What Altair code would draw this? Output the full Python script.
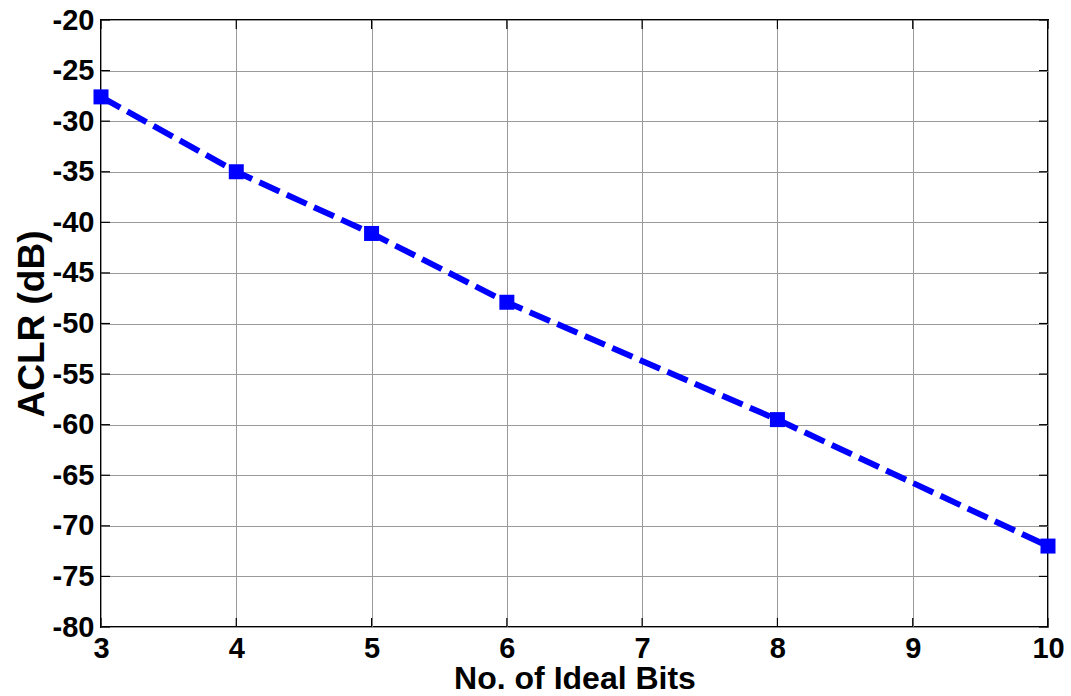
import altair as alt
import pandas as pd

# ACLR versus number of ideal bits
bits = [3, 4, 5, 6, 8, 10]
aclr_db = [-27.6, -35.0, -41.1, -47.9, -59.5, -72.0]

x_ticks = [3, 4, 5, 6, 7, 8, 9, 10]
y_ticks = list(range(-80, -15, 5))

df = pd.DataFrame({"bits": bits, "aclr": aclr_db})

FONT = "Liberation Sans"
W, H = 947, 607
GRID = "#9a9a9a"

x_scale = alt.Scale(domain=[3, 10], nice=False, zero=False)
y_scale = alt.Scale(domain=[-80, -20], nice=False, zero=False)

# plain ASCII hyphen for negative numbers
plain_label = "'' + datum.value"

x_enc = alt.X(
    "bits:Q",
    scale=x_scale,
    axis=alt.Axis(
        values=x_ticks,
        labelExpr=plain_label,
        title="No. of Ideal Bits",
        labelFont=FONT, labelFontSize=29, labelFontWeight="bold", labelColor="black",
        titleFont=FONT, titleFontSize=32, titleFontWeight="bold", titleColor="black",
        labelPadding=7, titlePadding=0, tickSize=0,
        labelFlush=False, labelOverlap=False,
        grid=True, gridColor=GRID, gridWidth=1,
        domain=False,
    ),
)
y_enc = alt.Y(
    "aclr:Q",
    scale=y_scale,
    axis=alt.Axis(
        values=y_ticks,
        labelExpr=plain_label,
        title="ACLR (dB)",
        labelFont=FONT, labelFontSize=29, labelFontWeight="bold", labelColor="black",
        titleFont=FONT, titleFontSize=37, titleFontWeight="bold", titleColor="black",
        labelPadding=7, titlePadding=1, tickSize=0,
        labelFlush=False, labelOverlap=False,
        grid=True, gridColor=GRID, gridWidth=1,
        domain=False,
    ),
)

line = alt.Chart(df).mark_line(
    color="#0000ff", strokeWidth=6, strokeDash=[22, 8]
).encode(x=x_enc, y=y_enc)

points = alt.Chart(df).mark_point(
    shape="square", filled=True, color="#0000ff", size=225, opacity=1
).encode(x="bits:Q", y="aclr:Q")

# inward tick marks along all four edges
tick_df = pd.DataFrame({"t": x_ticks})
xt_bottom = alt.Chart(tick_df).mark_rule(color="black", strokeWidth=1.2).encode(
    x=alt.X("t:Q", scale=x_scale), y=alt.value(H), y2=alt.value(H - 9)
)
xt_top = alt.Chart(tick_df).mark_rule(color="black", strokeWidth=1.2).encode(
    x=alt.X("t:Q", scale=x_scale), y=alt.value(0), y2=alt.value(9)
)
ytick_df = pd.DataFrame({"t": y_ticks})
yt_left = alt.Chart(ytick_df).mark_rule(color="black", strokeWidth=1.2).encode(
    y=alt.Y("t:Q", scale=y_scale), x=alt.value(0), x2=alt.value(9)
)
yt_right = alt.Chart(ytick_df).mark_rule(color="black", strokeWidth=1.2).encode(
    y=alt.Y("t:Q", scale=y_scale), x=alt.value(W), x2=alt.value(W - 9)
)

chart = (
    alt.layer(xt_bottom, xt_top, yt_left, yt_right, line, points)
    .properties(
        width=W, height=H,
        autosize=alt.AutoSizeParams(type="none"),
        padding={"left": 101, "top": 20, "right": 23, "bottom": 69},
        background="white",
    )
    .configure_view(stroke="black", strokeWidth=2)
)

chart.save("out.html", embed_options={"renderer": "svg", "actions": False})
